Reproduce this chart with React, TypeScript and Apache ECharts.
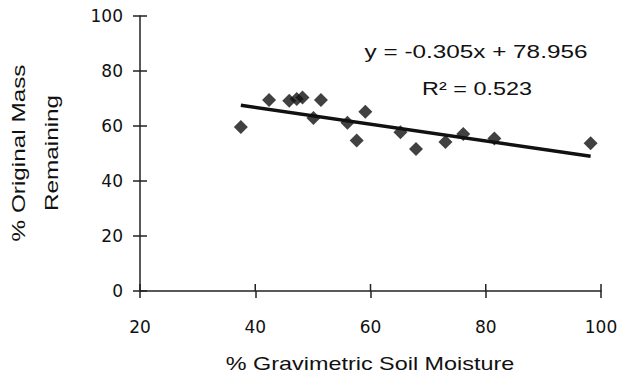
import React, { useEffect, useRef } from "react";
import * as echarts from "echarts";

const moisture = [37.5, 42.4, 45.9, 47.2, 48.2, 51.4, 50.1, 56.0, 59.1, 57.6, 65.2, 67.9, 73.0, 76.1, 81.5, 98.2];
const massRemaining = [59.6, 69.5, 69.2, 69.8, 70.4, 69.5, 62.9, 61.2, 65.2, 54.7, 57.7, 51.6, 54.2, 57.1, 55.5, 53.7];
const xTicks = [20, 40, 60, 80, 100];
const yTicks = [0, 20, 40, 60, 80, 100];
const slope = -0.305;
const intercept = 78.956;
const rSquared = "0.523";
const xTitle = "% Gravimetric Soil Moisture";
const yTitle = "% Original Mass\nRemaining";

const FONT = "'Liberation Sans', Arial, Helvetica, sans-serif";
const TICK_FONT = "'DejaVu Sans', 'Liberation Sans', sans-serif";
const INK = "#111111";
const AXIS = "#222222";

export default function App() {
  const ref = useRef<HTMLDivElement>(null);
  useEffect(() => {
    if (!ref.current) return;
    const chart = echarts.init(ref.current, null, { renderer: "svg" });
    const points = moisture.map((x, i) => [x, massRemaining[i]]);
    const xMin = Math.min(...moisture);
    const xMax = Math.max(...moisture);
    const trend = [xMin, xMax].map((x) => [x, intercept + slope * x]);
    const xLo = xTicks[0];
    const xHi = xTicks[xTicks.length - 1];
    const yLo = yTicks[0];
    const yHi = yTicks[yTicks.length - 1];
    const tickStyle = { stroke: AXIS, lineWidth: 1.5 };
    const tickLabel = { fontSize: 17, color: INK, fontFamily: TICK_FONT };
    chart.setOption({
      animation: false,
      backgroundColor: "#ffffff",
      grid: { left: 140, right: 35, top: 16, bottom: 90, containLabel: false },
      xAxis: {
        type: "value", min: xLo, max: xHi, interval: 20, position: "bottom",
        axisLine: { show: true, onZero: false, lineStyle: { color: AXIS, width: 1.5 } },
        axisTick: { show: true, inside: false, length: 7, lineStyle: { color: AXIS, width: 1.5 } },
        axisLabel: { ...tickLabel, margin: 27 },
        splitLine: { show: false },
      },
      yAxis: {
        type: "value", min: yLo, max: yHi, interval: 20, position: "left",
        axisLine: { show: true, onZero: false, lineStyle: { color: AXIS, width: 1.5 } },
        axisTick: { show: true, inside: false, length: 7, lineStyle: { color: AXIS, width: 1.5 } },
        axisLabel: { ...tickLabel, margin: 17 },
        splitLine: { show: false },
      },
      series: [
        {
          type: "custom", clip: false, silent: true, z: 1,
          data: xTicks.map((v) => [v, yLo]),
          renderItem: (_p: any, api: any) => {
            const p = api.coord([api.value(0), api.value(1)]);
            return { type: "line", shape: { x1: p[0], y1: p[1], x2: p[0], y2: p[1] - 7 }, style: tickStyle };
          },
        },
        {
          type: "custom", clip: false, silent: true, z: 1,
          data: yTicks.map((v) => [xLo, v]),
          renderItem: (_p: any, api: any) => {
            const p = api.coord([api.value(0), api.value(1)]);
            return { type: "line", shape: { x1: p[0], y1: p[1], x2: p[0] + 7, y2: p[1] }, style: tickStyle };
          },
        },
        {
          type: "line", data: trend,
          showSymbol: false, symbol: "none",
          lineStyle: { color: "#111", width: 3.5 }, z: 2,
        },
        {
          type: "scatter", data: points,
          symbol: "diamond", symbolSize: 14,
          itemStyle: { color: "#111" }, z: 3,
        },
      ],
      graphic: [
        {
          type: "text", x: 476, y: 52, scaleX: 1.35,
          style: {
            text: `y = ${slope}x + ${intercept}`, fontSize: 18, fontFamily: FONT,
            fill: INK, textAlign: "center", textVerticalAlign: "middle",
          },
        },
        {
          type: "text", x: 477, y: 89, scaleX: 1.3,
          style: {
            text: `R² = ${rSquared}`, fontSize: 18, fontFamily: FONT,
            fill: INK, textAlign: "center", textVerticalAlign: "middle",
          },
        },
        {
          type: "text", x: 370, y: 364, scaleX: 1.3,
          style: {
            text: xTitle, fontSize: 18, fontFamily: FONT,
            fill: INK, textAlign: "center", textVerticalAlign: "middle",
          },
        },
        {
          type: "text", x: 35, y: 153, rotation: Math.PI / 2, scaleX: 1.28,
          style: {
            text: yTitle, fontSize: 19, lineHeight: 33, fontFamily: FONT,
            fill: INK, textAlign: "center", textVerticalAlign: "middle",
          },
        },
      ],
    });
    return () => chart.dispose();
  }, []);
  return <div ref={ref} style={{ width: 636, height: 381, position: "absolute", left: 0, top: 0 }} />;
}
